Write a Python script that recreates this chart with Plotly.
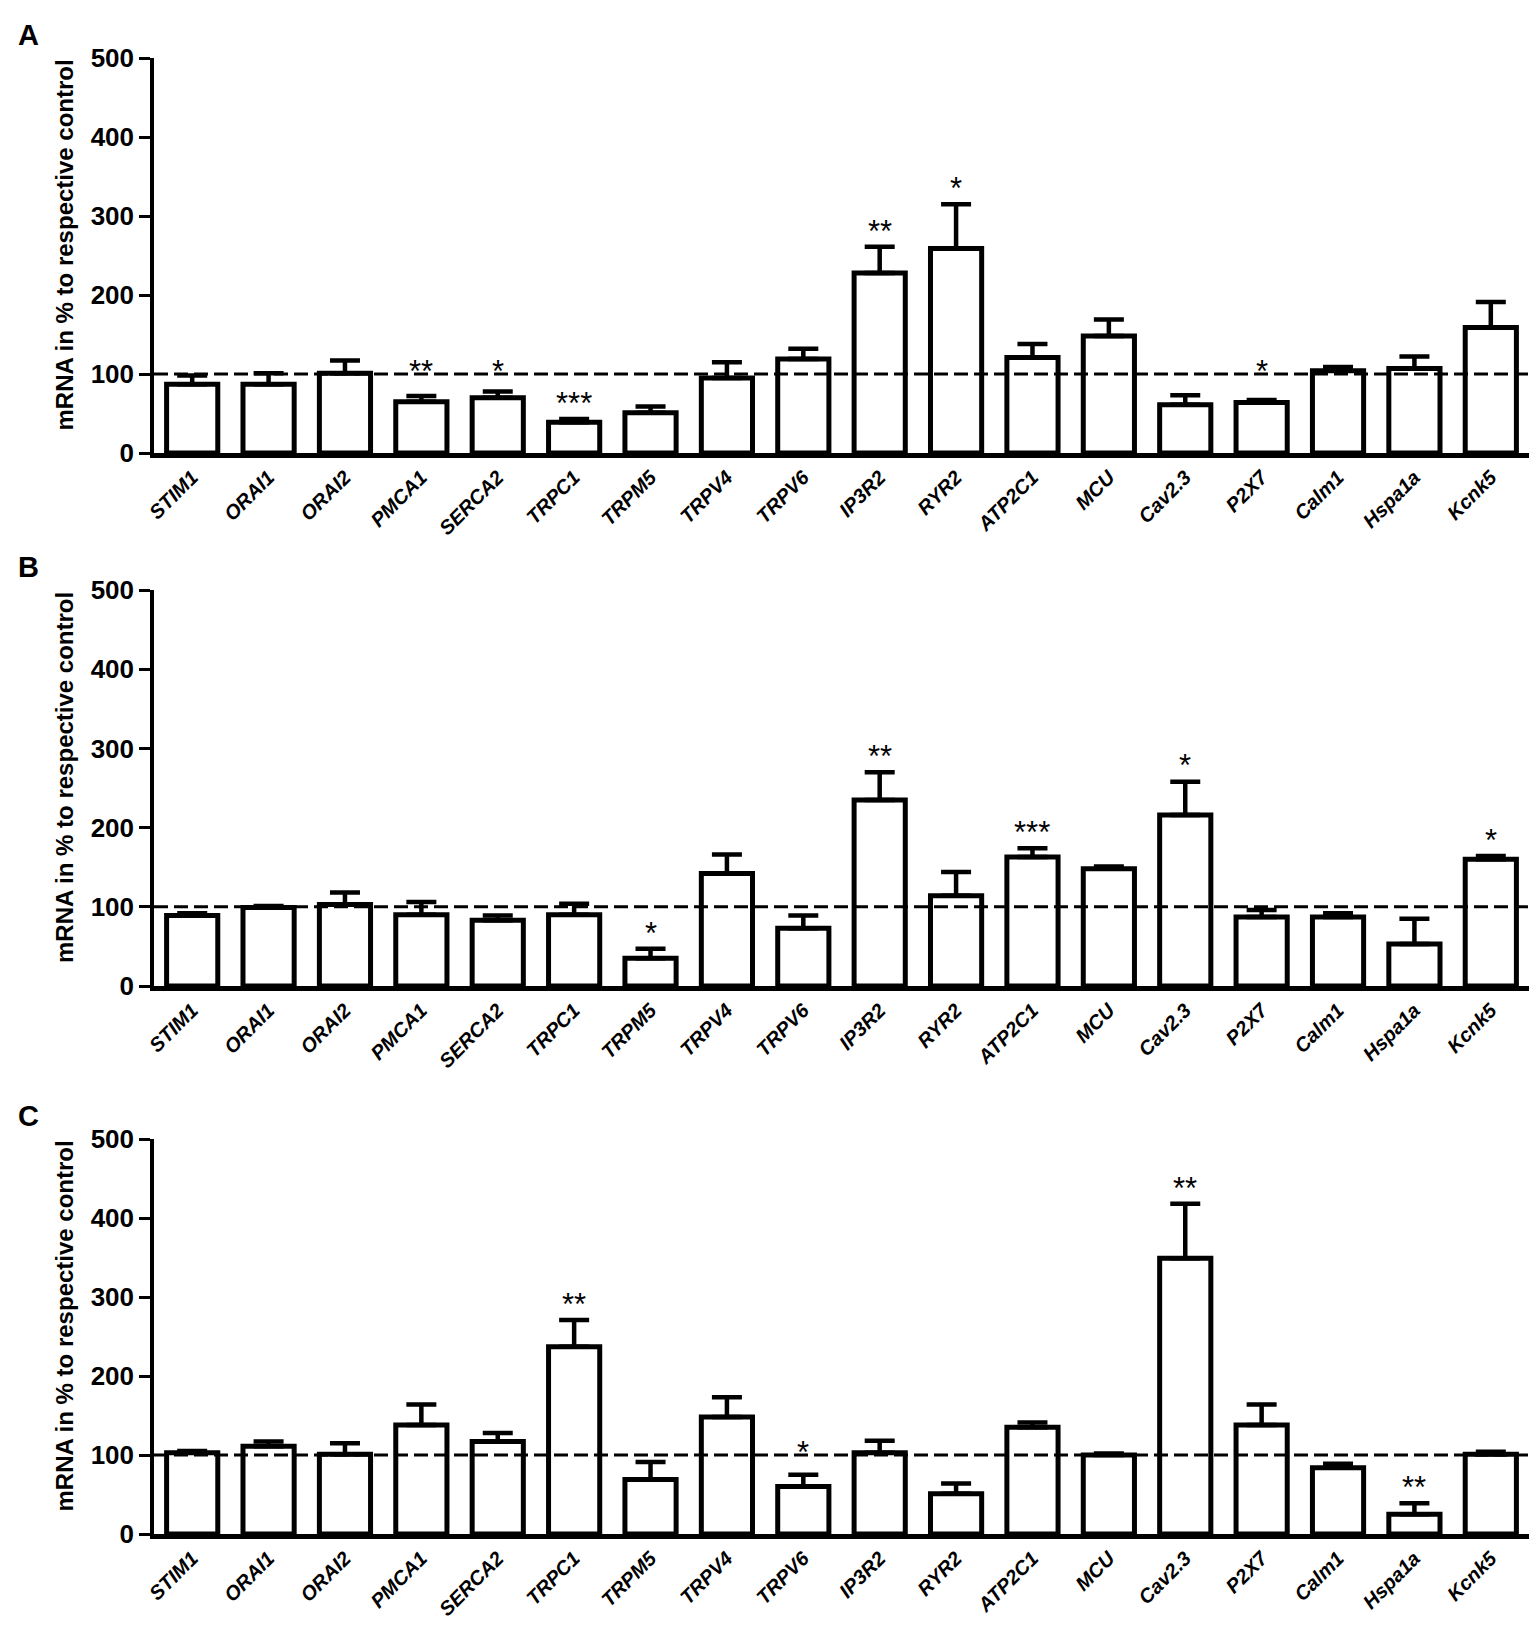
"""Relative mRNA expression of Ca2+ related genes, three conditions (A, B, C)."""

import plotly.graph_objects as go
from plotly.subplots import make_subplots

genes = [
    "STIM1", "ORAI1", "ORAI2", "PMCA1", "SERCA2", "TRPC1", "TRPM5", "TRPV4", "TRPV6",
    "IP3R2", "RYR2", "ATP2C1", "MCU", "Cav2.3", "P2X7", "Calm1", "Hspa1a", "Kcnk5",
]

# mean values (% of control)
mean_a = [87, 87, 101, 65, 70, 39, 51, 95, 119, 228, 259, 121, 148, 61, 64, 104, 107, 159]
mean_b = [89, 99, 103, 90, 83, 90, 35, 142, 73, 235, 114, 163, 148, 216, 87, 87, 53, 160]
mean_c = [103, 111, 101, 138, 117, 237, 69, 148, 60, 103, 51, 135, 100, 349, 138, 84, 25, 101]

# top of the SEM whisker
sem_top_a = [98, 101, 117, 72, 78, 43, 59, 115, 132, 261, 315, 138, 169, 73, 67, 109, 122, 191]
sem_top_b = [92, 101, 118, 106, 89, 104, 47, 166, 89, 270, 144, 174, 151, 258, 96, 92, 85, 164]
sem_top_c = [105, 117, 115, 164, 128, 271, 91, 173, 75, 118, 64, 141, 102, 418, 164, 89, 39, 104]

# significance marks
stars_a = ["", "", "", "**", "*", "***", "", "", "", "**", "*", "", "", "", "*", "", "", ""]
stars_b = ["", "", "", "", "", "", "*", "", "", "**", "", "***", "", "*", "", "", "", "*"]
stars_c = ["", "", "", "", "", "**", "", "", "*", "", "", "", "", "**", "", "", "**", ""]

y_ticks = [0, 100, 200, 300, 400, 500]
control_level = 100

panels = [
    ("A", mean_a, sem_top_a, stars_a),
    ("B", mean_b, sem_top_b, stars_b),
    ("C", mean_c, sem_top_c, stars_c),
]

W, H = 1537, 1629
# pixel rows of the 500 and 0 levels for each panel
panel_px = [(50, 445), (582, 978), (1131, 1526)]
x_left, x_right = 146, 1521

fig = make_subplots(rows=3, cols=1)

tick_font = dict(family="Liberation Sans, Arial", size=26, color="black", weight="bold")
label_font = dict(family="Liberation Sans, Arial", size=20, color="black", weight="bold", style="italic")

for i, (letter, means, tops, stars) in enumerate(panels):
    row = i + 1
    err_plus = [t - m for t, m in zip(tops, means)]
    fig.add_trace(
        go.Bar(
            x=genes,
            y=means,
            width=0.67,
            marker=dict(color="white", line=dict(color="black", width=5)),
            error_y=dict(
                type="data",
                symmetric=False,
                array=err_plus,
                arrayminus=[0] * len(genes),
                color="black",
                thickness=4.5,
                width=15,
            ),
            showlegend=False,
        ),
        row=row,
        col=1,
    )

    fig.add_hline(
        y=control_level,
        line=dict(color="black", width=3, dash="14px,6px"),
        row=row,
        col=1,
    )

    # significance stars
    for gene, top, s in zip(genes, tops, stars):
        if not s:
            continue
        ys = top + 30
        if 85 < ys < 113:
            ys = 113
        fig.add_annotation(
            x=gene,
            y=ys,
            xref=f"x{row if row > 1 else ''}",
            yref=f"y{row if row > 1 else ''}",
            text=s,
            showarrow=False,
            yanchor="middle",
            yshift=-8,
            font=dict(family="Liberation Sans, Arial", size=31, color="black"),
        )

    top_px, zero_px = panel_px[i]
    dom = [1 - zero_px / H, 1 - top_px / H]
    fig.update_yaxes(
        domain=dom,
        range=[0, 500],
        tickvals=y_ticks,
        ticks="outside",
        ticklen=11,
        tickwidth=3,
        tickcolor="black",
        showline=True,
        linewidth=3.5,
        linecolor="black",
        showgrid=False,
        zeroline=False,
        tickfont=tick_font,
        automargin=False,
        row=row,
        col=1,
    )
    fig.update_xaxes(
        domain=[x_left / W, x_right / W],
        range=[-0.5, 17.5],
        tickangle=-45,
        ticks="",
        showline=True,
        linewidth=4.5,
        linecolor="black",
        showgrid=False,
        tickfont=label_font,
        automargin=False,
        row=row,
        col=1,
    )

    # y title
    fig.add_annotation(
        x=56 / W,
        y=1 - ((top_px + zero_px) / 2 - 10) / H,
        xref="paper",
        yref="paper",
        xanchor="center",
        yanchor="middle",
        text="mRNA in % to respective control",
        textangle=-90,
        showarrow=False,
        font=dict(family="Liberation Sans, Arial", size=24, color="black", weight="bold"),
    )
    # panel letter
    fig.add_annotation(
        x=8 / W,
        y=1 - (top_px - 23) / H,
        xref="paper",
        yref="paper",
        xanchor="left",
        yanchor="middle",
        text=letter,
        showarrow=False,
        font=dict(family="Liberation Sans, Arial", size=29, color="black", weight="bold"),
    )

fig.update_layout(
    width=W,
    height=H,
    margin=dict(l=0, r=0, t=0, b=0),
    paper_bgcolor="white",
    plot_bgcolor="white",
)

fig.write_html("out.html")
